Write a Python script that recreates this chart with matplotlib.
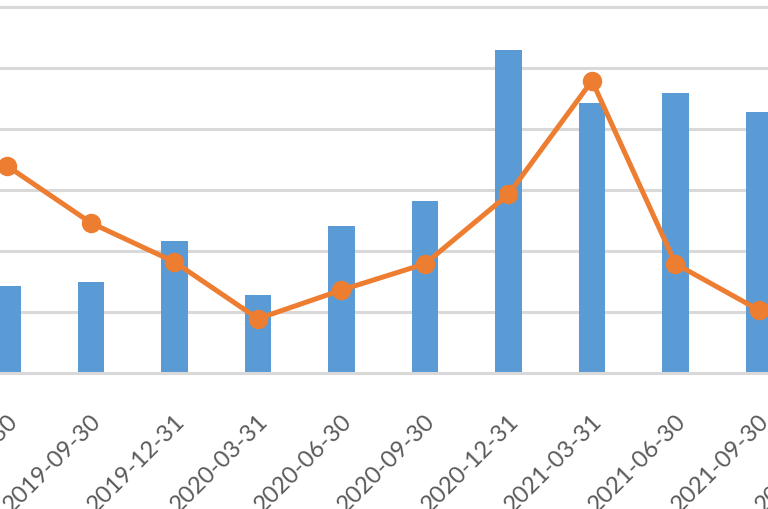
import numpy as np
import matplotlib.pyplot as plt

# quarter-end dates (last one is only a tick label, cut off in the picture)
dates = ["2019-06-30", "2019-09-30", "2019-12-31", "2020-03-31", "2020-06-30",
         "2020-09-30", "2020-12-31", "2021-03-31", "2021-06-30", "2021-09-30",
         "2021-12-31"]
bar_vals = [1.43, 1.49, 2.16, 1.28, 2.41, 2.82, 5.30, 4.43, 4.59, 4.28]
line_vals = [3.39, 2.46, 1.82, 0.89, 1.36, 1.79, 2.93, 4.79, 1.79, 1.03]

BLUE = "#5B9BD5"
ORANGE = "#ED7D31"
GRID = "#D9D9D9"
TXT = "#595959"

W, H = 768, 510
fig = plt.figure(figsize=(W / 100, H / 100), dpi=100)

# axes run off the left/right/top edges, like a cropped screenshot
base_px = 374
step_px = 61.0
slot_px = 83.5
x0_px = 7.5
ax = fig.add_axes([0, (H - base_px) / H, 1, base_px / H])
ax.set_xlim(-x0_px / slot_px, (W - x0_px) / slot_px)
ax.set_ylim(0, base_px / step_px)

x = np.arange(len(bar_vals))
ax.bar(x, bar_vals, width=0.32, color=BLUE, zorder=2)
ax.plot(x, line_vals, color=ORANGE, lw=3.6, marker="o", ms=13,
        solid_joinstyle="round", zorder=3)

ax.set_yticks(np.arange(1, 7))
ax.yaxis.grid(True, color=GRID, lw=2.2, zorder=0)
ax.set_axisbelow(True)
ax.tick_params(left=False, labelleft=False, bottom=False, labelbottom=False)
for s in ["left", "right", "top"]:
    ax.spines[s].set_visible(False)
ax.spines["bottom"].set_color(GRID)
ax.spines["bottom"].set_linewidth(2.2)

# rotated category labels under the axis
for i, d in enumerate(dates):
    px = x0_px + slot_px * i + 7
    fig.text(px / W, 1 - 418 / H, d, rotation=45, rotation_mode="anchor",
             ha="right", va="center", fontsize=17, color=TXT,
             family=["Lato", "DejaVu Sans"])

fig.savefig("out.png", dpi=100)
